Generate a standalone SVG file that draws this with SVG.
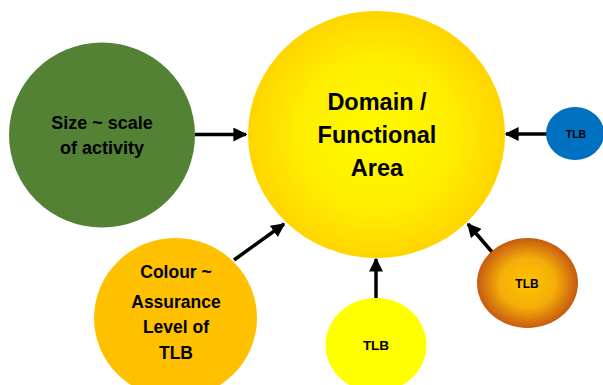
<svg xmlns="http://www.w3.org/2000/svg" width="603" height="385" viewBox="0 0 603 385">
<defs>
<radialGradient id="gBig" cx="50%" cy="50%" r="50%">
<stop offset="0" stop-color="#FFFA00"/>
<stop offset="0.6" stop-color="#FFEE00"/>
<stop offset="1" stop-color="#FFD500"/>
</radialGradient>
<radialGradient id="gOr" cx="50%" cy="50%" r="50%">
<stop offset="0" stop-color="#FFC400"/>
<stop offset="0.55" stop-color="#F5AE08"/>
<stop offset="1" stop-color="#C65A11"/>
</radialGradient>
<marker id="ah" viewBox="0 0 10 10" refX="9" refY="5" markerWidth="4" markerHeight="4" markerUnits="strokeWidth" orient="auto">
<path d="M0,0 L10,5 L0,10 z" fill="#000"/>
</marker>
<style>
text{font-family:"Liberation Sans",Arial,sans-serif;font-weight:bold;fill:#000;text-anchor:middle}
.c{stroke:none}
.a{stroke:#000;stroke-width:3.5;fill:none;marker-end:url(#ah)}
</style>
</defs>
<g id="connectors">
<line class="a" x1="195" y1="134.5" x2="246" y2="134.5"/>
<line class="a" x1="547" y1="134" x2="506" y2="134"/>
<line class="a" x1="234" y1="260" x2="284" y2="224"/>
<line class="a" x1="376" y1="298" x2="376" y2="259"/>
<line class="a" x1="492" y1="252" x2="468" y2="224"/>
</g>
<g id="domain">
<ellipse class="c" cx="376.5" cy="134.5" rx="128.5" ry="123.5" fill="url(#gBig)"/>
<text x="377" y="110" font-size="23.5">Domain /</text>
<text x="377" y="143" font-size="23.5">Functional</text>
<text x="377" y="176" font-size="23.5">Area</text>
</g>
<g id="size">
<ellipse class="c" cx="102" cy="135" rx="93" ry="92.5" fill="#548235"/>
<text x="102" y="129" font-size="18">Size ~ scale</text>
<text x="102" y="154" font-size="18">of activity</text>
</g>
<g id="colour">
<ellipse class="c" cx="175.5" cy="318" rx="81.5" ry="80" fill="#FFC000"/>
<text x="176" y="278" font-size="17.5">Colour ~</text>
<text x="176" y="308" font-size="17.5">Assurance</text>
<text x="176" y="333" font-size="17.5">Level of</text>
<text x="176" y="359" font-size="17.5">TLB</text>
</g>
<g id="tlb-blue">
<ellipse class="c" cx="575" cy="133.5" rx="29" ry="26.5" fill="#0070C0"/>
<text x="576" y="137.5" font-size="10.5">TLB</text>
</g>
<g id="tlb-orange">
<ellipse class="c" cx="527.5" cy="283" rx="50.5" ry="45" fill="url(#gOr)"/>
<text x="527" y="288" font-size="12">TLB</text>
</g>
<g id="tlb-yellow">
<ellipse class="c" cx="376" cy="345" rx="50.5" ry="47" fill="#FFFF00"/>
<text x="376" y="349.5" font-size="13.5">TLB</text>
</g>
</svg>
